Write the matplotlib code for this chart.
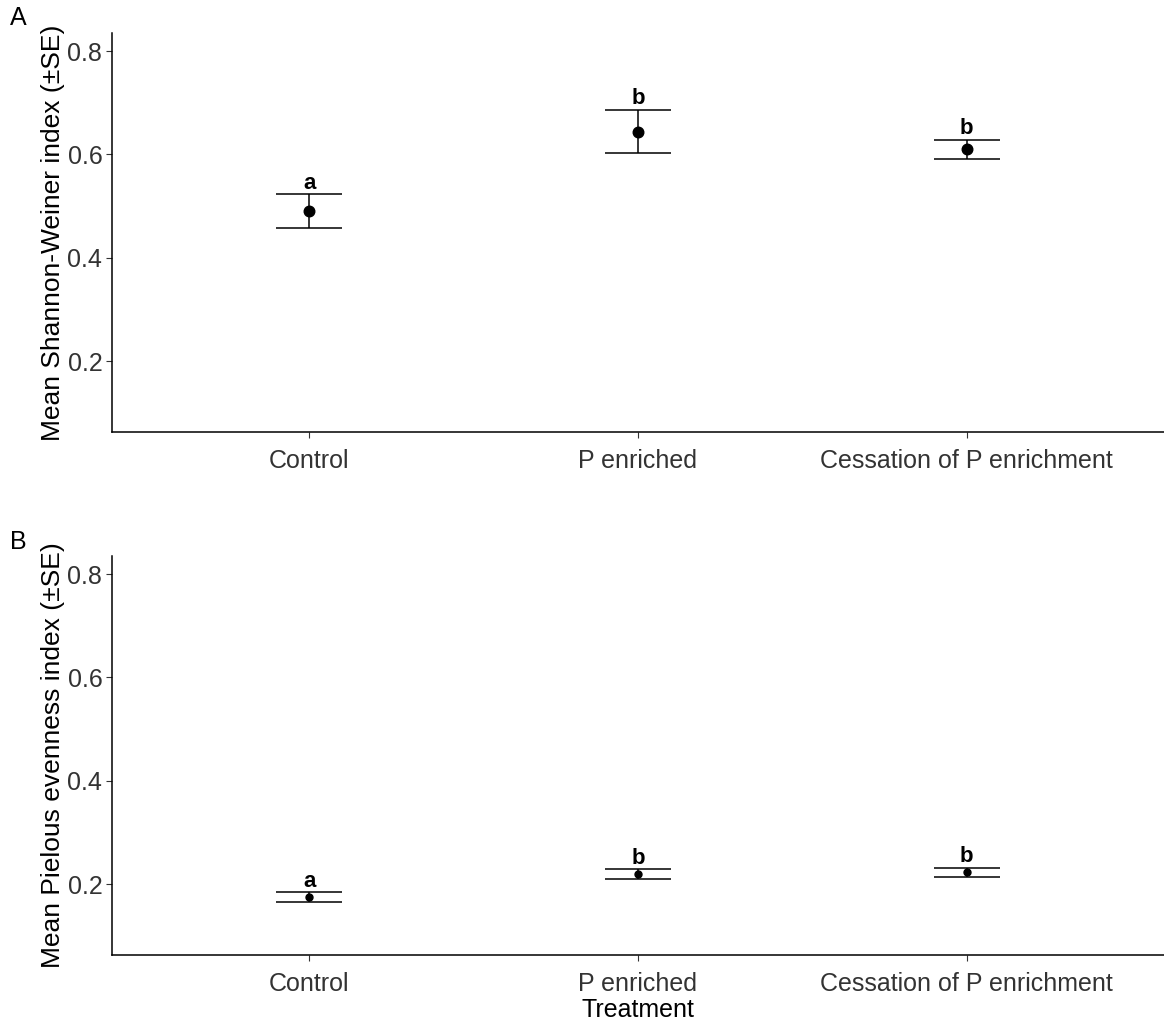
import numpy as np
import matplotlib.pyplot as plt

plt.rcParams['font.family'] = ['Liberation Sans', 'DejaVu Sans']

treatments = ['Control', 'P enriched', 'Cessation of P enrichment']

# panel A: Shannon-Weiner
shannon_mean = [0.490, 0.643, 0.610]
shannon_lo = [0.458, 0.603, 0.591]
shannon_hi = [0.523, 0.686, 0.628]
shannon_letters = ['a', 'b', 'b']

# panel B: Pielou evenness
pielou_mean = [0.175, 0.219, 0.223]
pielou_lo = [0.165, 0.210, 0.213]
pielou_hi = [0.184, 0.229, 0.232]
pielou_letters = ['a', 'b', 'b']

fig = plt.figure(figsize=(11.64, 10.24), dpi=100)
axA = fig.add_axes([112/1164, 1-432/1024, 1-112/1164, 399/1024])
axB = fig.add_axes([112/1164, 1-955/1024, 1-112/1164, 399/1024])


def panel(ax, mean, lo, hi, letters, ylabel, msize):
    x = np.arange(len(treatments))
    mean = np.array(mean)
    yerr = [mean - np.array(lo), np.array(hi) - mean]
    ax.errorbar(x, mean, yerr=yerr, fmt='none', ecolor='black', elinewidth=1.1,
                capsize=0, zorder=2)
    for xi, l, h in zip(x, lo, hi):
        ax.hlines([l, h], xi - 0.1, xi + 0.1, color='black', lw=1.1, zorder=2)
    ax.plot(x, mean, 'o', color='black', ms=msize, zorder=3)
    for xi, h, t in zip(x, hi, letters):
        ax.annotate(t, (xi, h), xytext=(0, 4), textcoords='offset points',
                    ha='center', va='baseline', fontsize=16, fontweight='bold')
    ax.set_xlim(-0.6, len(treatments) - 0.4)
    ax.set_ylim(0.063, 0.835)
    ax.set_xticks(x)
    ax.set_xticklabels(treatments)
    ax.set_yticks([0.2, 0.4, 0.6, 0.8])
    ax.set_yticklabels(['0.2', '0.4', '0.6', '0.8'])
    ax.tick_params(labelsize=18, colors='#333333', length=4, width=0.8)
    ax.tick_params(axis='x', pad=8)
    ax.tick_params(axis='y', pad=3)
    ax.set_ylabel(ylabel, fontsize=19, labelpad=2)
    for s in ['top', 'right']:
        ax.spines[s].set_visible(False)
    for s in ['left', 'bottom']:
        ax.spines[s].set_linewidth(1.1)


panel(axA, shannon_mean, shannon_lo, shannon_hi, shannon_letters,
      'Mean Shannon-Weiner index (±SE)', 7.6)
panel(axB, pielou_mean, pielou_lo, pielou_hi, pielou_letters,
      'Mean Pielous evenness index (±SE)', 5.0)
axB.set_xlabel('Treatment', fontsize=18, labelpad=2)

fig.text(10/1164, 1-18/1024, 'A', fontsize=18, va='center', ha='left')
fig.text(10/1164, 1-542/1024, 'B', fontsize=18, va='center', ha='left')

fig.savefig('out.png', dpi=100)
